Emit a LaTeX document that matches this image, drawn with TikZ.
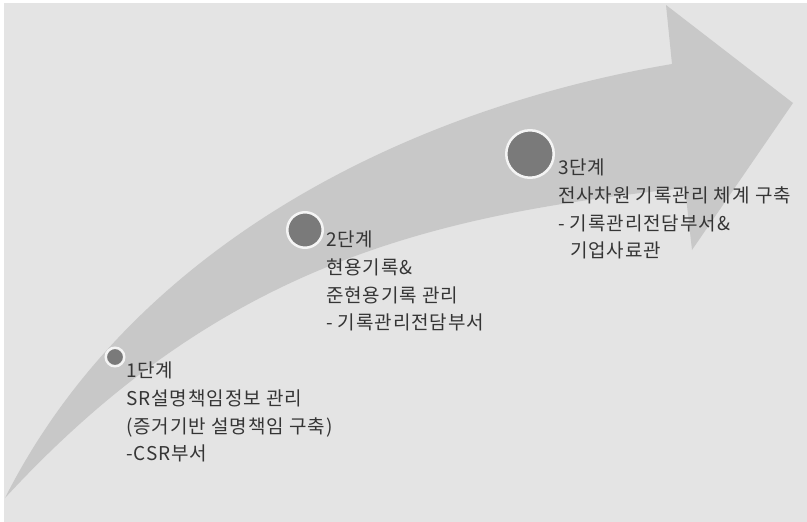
\documentclass[tikz,border=0pt]{standalone}
\usepackage{fontspec}
\setmainfont{Noto Sans CJK KR}[LetterSpace=5]
\definecolor{bgc}{HTML}{E4E4E4}
\definecolor{arrowc}{HTML}{C8C8C8}
\definecolor{dotc}{HTML}{7A7A7A}
\definecolor{ringc}{HTML}{F4F4F4}
\definecolor{txtc}{HTML}{353535}
\begin{document}
\begin{tikzpicture}[x=1pt,y=-1pt,
  dot/.style={circle,fill=dotc,draw=ringc,line width=2.5pt,inner sep=0pt,outer sep=0pt},
  label/.style={anchor=north west,inner sep=0pt,outer sep=0pt,align=left,text=txtc,
    font=\fontsize{19}{27.7}\selectfont}]
\useasboundingbox (0,0) rectangle (807,522);
\fill[white] (0,0) rectangle (807,522);
\fill[bgc] (4,3) rectangle (807,522);
% big curved arrow
\fill[arrowc] (5,498) .. controls (130,250) and (400,110) .. (672,64)
  -- (666,5) -- (793,103) -- (692,250) -- (685,188)
  .. controls (430,215) and (220,265) .. (5,498) -- cycle;
% stage dots
\node[dot,minimum size=18.5pt] (d1) at (115,357) {};
\node[dot,minimum size=35.5pt] (d2) at (305,230) {};
\node[dot,minimum size=47.5pt] (d3) at (530,154) {};
% labels
\node[label] (t1) at (126,362) {1단계\\SR설명책임정보 관리\\(증거기반 설명책임 구축)\\-CSR부서};
\node[label] (t2) at (326,231) {2단계\\현용기록\&\\준현용기록 관리\\- 기록관리전담부서};
\node[label] (t3) at (558,159) {3단계\\전사차원 기록관리 체계 구축\\- 기록관리전담부서\&\\\hspace*{12pt}기업사료관};
\end{tikzpicture}
\end{document}
